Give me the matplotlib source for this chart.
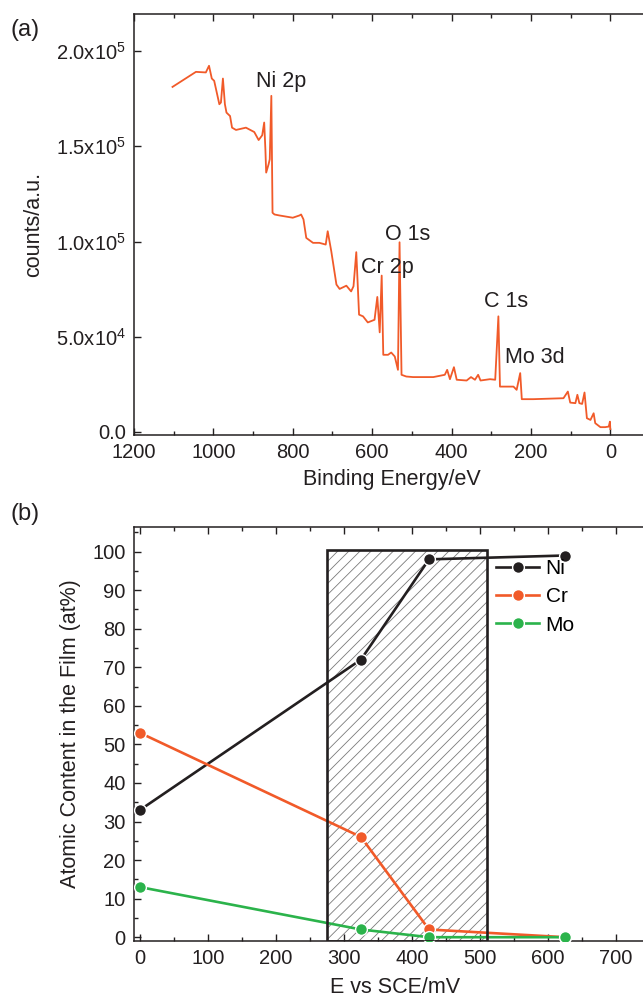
import matplotlib
matplotlib.use("Agg")
import matplotlib.pyplot as plt
from matplotlib.patches import Rectangle

plt.rcParams['font.family'] = ['Liberation Sans', 'DejaVu Sans']
plt.rcParams['mathtext.fontset'] = 'custom'
plt.rcParams['mathtext.rm'] = 'Liberation Sans'
plt.rcParams['hatch.linewidth'] = 0.6

# (a) XPS survey spectrum
be = [1103, 1044, 1019, 1011, 1004, 998, 985, 981, 976, 971, 967, 958, 953, 943,
      918, 897, 886, 877, 872, 869, 867, 861, 858, 854, 851, 846, 834, 800, 783,
      779, 773, 766, 749, 733, 717, 712, 703, 690, 682, 665, 653, 647, 640, 633,
      623, 611, 594, 587, 581, 576, 572, 560, 552, 543, 535, 531, 526, 514, 497,
      446, 417, 411, 404, 394, 387, 362, 351, 341, 333, 327, 303, 290, 282, 278,
      253, 244, 236, 227, 223, 194, 118, 107, 101, 88, 83, 78, 71, 65, 59, 50,
      42, 38, 25, 13, 4, 1, 0]
counts = [181200, 189100, 188800, 192300, 185600, 184400, 172100, 173000, 185600,
          172100, 167700, 165900, 159800, 158600, 159800, 157500, 153300, 155800,
          162500, 148400, 136200, 140500, 143200, 176500, 115100, 114200, 113700,
          112500, 113700, 114200, 111600, 101900, 99300, 99300, 98400, 105400,
          94900, 77400, 75100, 76800, 73800, 76500, 94400, 61600, 60700, 57500,
          58900, 70900, 52300, 82100, 40500, 40500, 41700, 39600, 32600, 99600,
          30000, 29100, 28800, 28800, 30000, 32600, 27700, 34000, 27400, 27000,
          28800, 27400, 30000, 27000, 27700, 27400, 60700, 23800, 23800, 23800,
          22100, 30900, 17200, 17200, 17700, 21200, 15400, 15100, 19500, 15100,
          14700, 20700, 7200, 6300, 9800, 4600, 2500, 2500, 2800, 5400, 1500]

peak_names = ['Ni 2p', 'O 1s', 'Cr 2p', 'C 1s', 'Mo 3d']
peak_x = [892, 568, 629, 318, 265]
peak_y = [184200, 103700, 86300, 68400, 38900]

# (b) film composition vs potential
potential = [0, 325, 425, 625]
ni = [33, 72, 98, 99]
cr = [53, 26, 2, 0]
mo = [13, 2, 0, 0]
passive_lo, passive_hi, passive_top = 275, 510, 100.5

orange = '#F15A29'
dark = '#231F20'
green = '#2BB34B'

fig = plt.figure(figsize=(6.43, 9.99), dpi=100)

def style(ax):
    for s in ax.spines.values():
        s.set_linewidth(1.1)
        s.set_color(dark)
    ax.tick_params(which='both', direction='in', top=True, right=True,
                   labelsize=14.5, colors=dark, width=1.0, pad=6)
    ax.tick_params(which='major', length=5)
    ax.tick_params(which='minor', length=3)

ax1 = fig.add_axes([0.2084, 0.5646, 0.8025, 0.4214])
ax1.plot(be, counts, color=orange, lw=1.3)
for name, x, y in zip(peak_names, peak_x, peak_y):
    ax1.text(x, y, name, fontsize=15.5, ha='left', va='center', color=dark)
ax1.set_xlim(1200, -100)
ax1.set_ylim(-1600, 219500)
ax1.set_xticks([1200, 1000, 800, 600, 400, 200, 0])
ax1.set_xticks([1100, 900, 700, 500, 300, 100, -100], minor=True)
ax1.set_yticks([0, 50000, 100000, 150000, 200000])
ax1.set_yticklabels(['0.0', '5.0x10$^{4}$', '1.0x10$^{5}$', '1.5x10$^{5}$', '2.0x10$^{5}$'])
style(ax1)
ax1.set_xlabel('Binding Energy/eV', fontsize=15.5, color=dark, labelpad=5)
ax1.set_ylabel('counts/a.u.', fontsize=15.5, color=dark, labelpad=8)
fig.text(0.016, 0.97, '(a)', fontsize=17, color=dark, va='center')

ax2 = fig.add_axes([0.2084, 0.058, 0.813, 0.4145])
ax2.add_patch(Rectangle((passive_lo, -1), passive_hi - passive_lo, passive_top + 1,
                        facecolor='none', edgecolor='#7a7a7a', hatch='///', lw=0, zorder=1))
ax2.add_patch(Rectangle((passive_lo, -1), passive_hi - passive_lo, passive_top + 1,
                        facecolor='none', edgecolor=dark, lw=1.9, zorder=4))
mk = dict(marker='o', markersize=8.5, markeredgecolor='white', markeredgewidth=1.0,
          lw=1.9, zorder=3)
ax2.plot(potential, ni, color=dark, label='Ni', **mk)
ax2.plot(potential, cr, color=orange, label='Cr', **mk)
ax2.plot(potential, mo, color=green, label='Mo', **mk)
ax2.set_xlim(-8.8, 760)
ax2.set_ylim(-1, 106.4)
ax2.set_xticks(range(0, 800, 100))
ax2.set_xticks(range(50, 800, 100), minor=True)
ax2.set_yticks(range(0, 101, 10))
ax2.set_yticks(range(5, 106, 10), minor=True)
style(ax2)
ax2.set_xlabel('E vs SCE/mV', fontsize=15.5, color=dark, labelpad=6)
ax2.set_ylabel('Atomic Content in the Film (at%)', fontsize=15.5, color=dark, labelpad=8)
ax2.legend(loc='upper left', bbox_to_anchor=(0.672, 0.948), frameon=False,
           fontsize=15, handlelength=2.1, handletextpad=0.3, borderpad=0,
           labelspacing=0.45)
fig.text(0.016, 0.485, '(b)', fontsize=17, color=dark, va='center')

fig.savefig('out.png', dpi=100)
